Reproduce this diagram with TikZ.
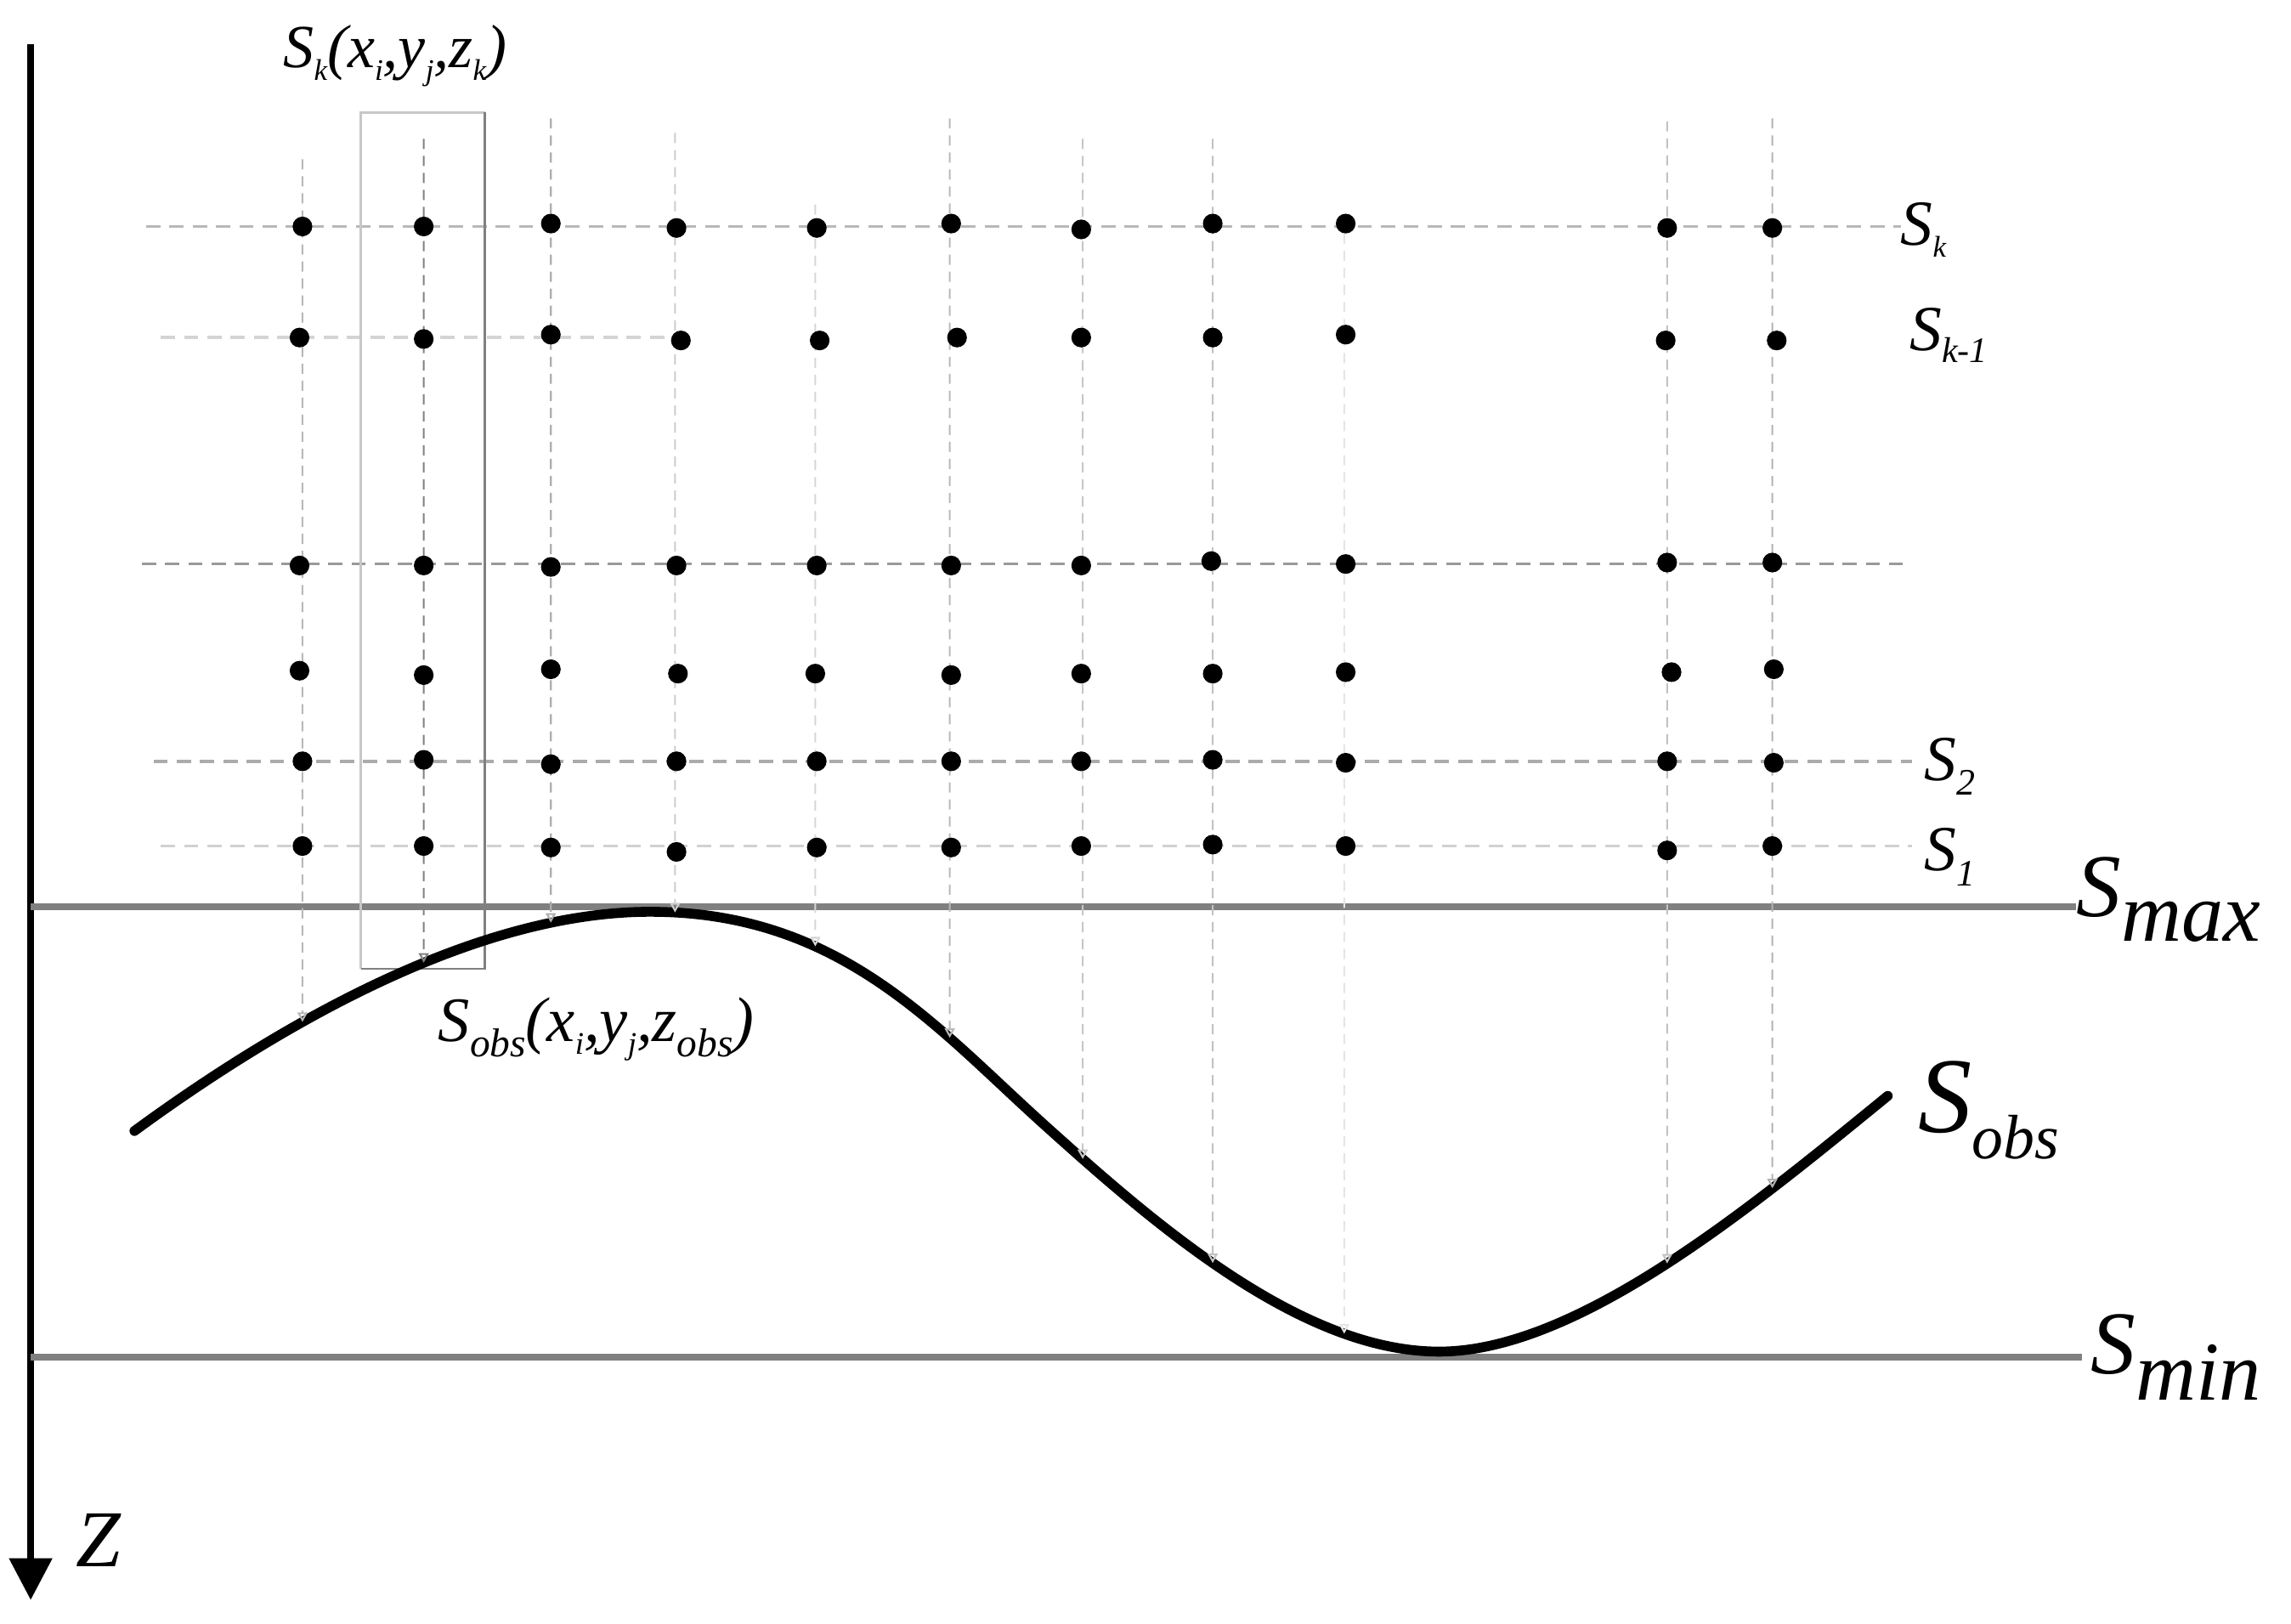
\documentclass[tikz,border=0pt]{standalone}
\usepackage{fontspec}
\setmainfont{Liberation Serif}
\usetikzlibrary{arrows.meta,intersections}
\newcommand{\subt}[3]{\raisebox{-#1}{\fontsize{#2}{#2}\selectfont #3}}
\begin{document}
\begin{tikzpicture}[x=0.17194mm,y=-0.17194mm,
  dot/.style={circle,fill=black,inner sep=0pt,minimum size=6.6pt},
  hgrid/.style={dash pattern=on 4.8pt off 3pt, line width=1pt},
  vgrid/.style={dash pattern=on 3.4pt off 2.3pt, line width=0.6pt, -{Triangle[open,length=3.2pt,width=3.4pt]}},
  level/.style={line width=2.2pt, black!50},
  lab/.style={anchor=base west, inner sep=0pt, outer sep=0pt, font=\itshape}
]
\useasboundingbox (0,0) rectangle (1568,1111);

% z axis
\coordinate (axtop) at (21,30);
\coordinate (axtip) at (21,1095);
\draw[line width=2.3pt, -{Triangle[length=14pt,width=14pt]}] (axtop) -- (axtip);
\node[lab, font=\itshape\fontsize{27}{30}\selectfont] (zlab) at (52,1072) {Z};

% labels
\node[lab] (lsk)  at (1301,168) {\fontsize{21.5}{26}\selectfont S\subt{4pt}{10}{k}};
\node[lab] (lsk1) at (1307,240) {\fontsize{21.5}{26}\selectfont S\subt{4pt}{12}{k-1}};
\node[lab] (ls2)  at (1317,534) {\fontsize{21.5}{26}\selectfont S\subt{5pt}{12.5}{2}};
\node[lab] (ls1)  at (1317,596) {\fontsize{21.5}{26}\selectfont S\subt{5pt}{12.5}{1}};
\node[lab] (lmax) at (1421,627) {\fontsize{30}{34}\selectfont S\subt{8.3pt}{28}{max}};
\node[lab] (lobs) at (1313,775) {\fontsize{36}{40}\selectfont S\subt{8.8pt}{21}{obs}};
\node[lab] (lmin) at (1431,940) {\fontsize{30}{34}\selectfont S\subt{8.8pt}{28}{min}};
\node[lab] (ltop) at (194,46.5) {\fontsize{20.5}{24}\selectfont S\subt{4pt}{10}{k}(x\subt{4pt}{10}{i},y\subt{4pt}{10}{j},z\subt{4pt}{10}{k})};
\node[lab] (lbot) at (300,713) {\fontsize{21.2}{25}\selectfont S\subt{5pt}{13.5}{obs}(x\subt{4pt}{10.5}{i},y\subt{4pt}{10.5}{j},z\subt{5pt}{13.5}{obs})};

% horizontal grid lines
\coordinate (hk0) at (100,155);
\draw[hgrid, black!28] (hk0) -- (hk0 -| lsk.west);
\coordinate (hk10) at (110,231); \coordinate (hk11) at (458,231);
\draw[hgrid, black!17] (hk10) -- (hk11);
\coordinate (h30) at (97,386); \coordinate (h31) at (1302,386);
\draw[hgrid, black!40] (h30) -- (h31);
\coordinate (h20) at (105,521);
\draw[hgrid, black!33] (h20) -- ([xshift=-4pt]h20 -| ls2.west);
\coordinate (h10) at (110,579);
\draw[hgrid, black!18] (h10) -- ([xshift=-4pt]h10 -| ls1.west);

% Smax / Smin levels
\coordinate (smax0) at (21,620.5);
\draw[level] (smax0) -- (smax0 -| lmax.west);
\coordinate (smin0) at (21,929);
\draw[level] (smin0) -- ([xshift=-3pt]smin0 -| lmin.west);

% selection rectangle
\coordinate (rA) at (247,77); \coordinate (rB) at (332,663);
\draw[black!22, line width=0.8pt] (rB -| rA) -- (rA) -- (rA -| rB);
\draw[black!50, line width=0.8pt] (rA -| rB) -- (rB) -- (rB -| rA);

% observed surface
\draw[name path=obs, line width=3.3pt, line cap=round]
  (92,774) .. controls (200,695) and (330,624) .. (445,624)
           .. controls (575,624) and (640,702.5) .. (715,770)
           .. controls (790,837.5) and (890,925) .. (985,925)
           .. controls (1080,925) and (1200,825) .. (1292,750);

% vertical projection lines
\foreach \c/\x/\t/\col in {1/207/109/28, 2/290/95/50, 3/377/81/32, 4/462/91/20,
  5/558/140/16, 6/650/81/28, 7/741/95/22, 8/830/95/24, 9/920/160/10,
  10/1141/83/24, 11/1213/81/30}{
  \coordinate (vt\c) at (\x,\t);
  \path[name path=vl\c] (\x,0) -- (\x,1100);
  \path[name intersections={of=obs and vl\c, by={vb\c}}];
  \draw[vgrid, black!\col] (vt\c) -- (vb\c);
}

% grid points
\foreach \n/\x/\y in {
 1/207/155, 2/290/155, 3/377/153, 4/463/156, 5/559/156, 6/651/153, 7/740/157, 8/830/153, 9/921/153, 10/1141/156, 11/1213/156,
 12/205/231, 13/290/232, 14/377/229, 15/466/233, 16/561/233, 17/655/231, 18/740/231, 19/830/231, 20/921/229, 21/1140/233, 22/1216/233,
 23/205/387, 24/290/387, 25/377/388, 26/463/387, 27/559/387, 28/651/387, 29/740/387, 30/829/384, 31/921/386, 32/1141/385, 33/1213/385,
 34/205/459, 35/290/462, 36/377/458, 37/464/461, 38/558/461, 39/651/462, 40/740/461, 41/830/461, 42/921/460, 43/1144/460, 44/1214/458,
 45/207/521, 46/290/520, 47/377/523, 48/463/521, 49/559/521, 50/651/521, 51/740/521, 52/830/520, 53/921/522, 54/1141/521, 55/1214/522,
 56/207/579, 57/290/579, 58/377/580, 59/463/583, 60/559/580, 61/651/580, 62/740/579, 63/830/578, 64/921/579, 65/1141/582, 66/1213/579}{
  \node[dot] (d\n) at (\x,\y) {};
}
\end{tikzpicture}
\end{document}
